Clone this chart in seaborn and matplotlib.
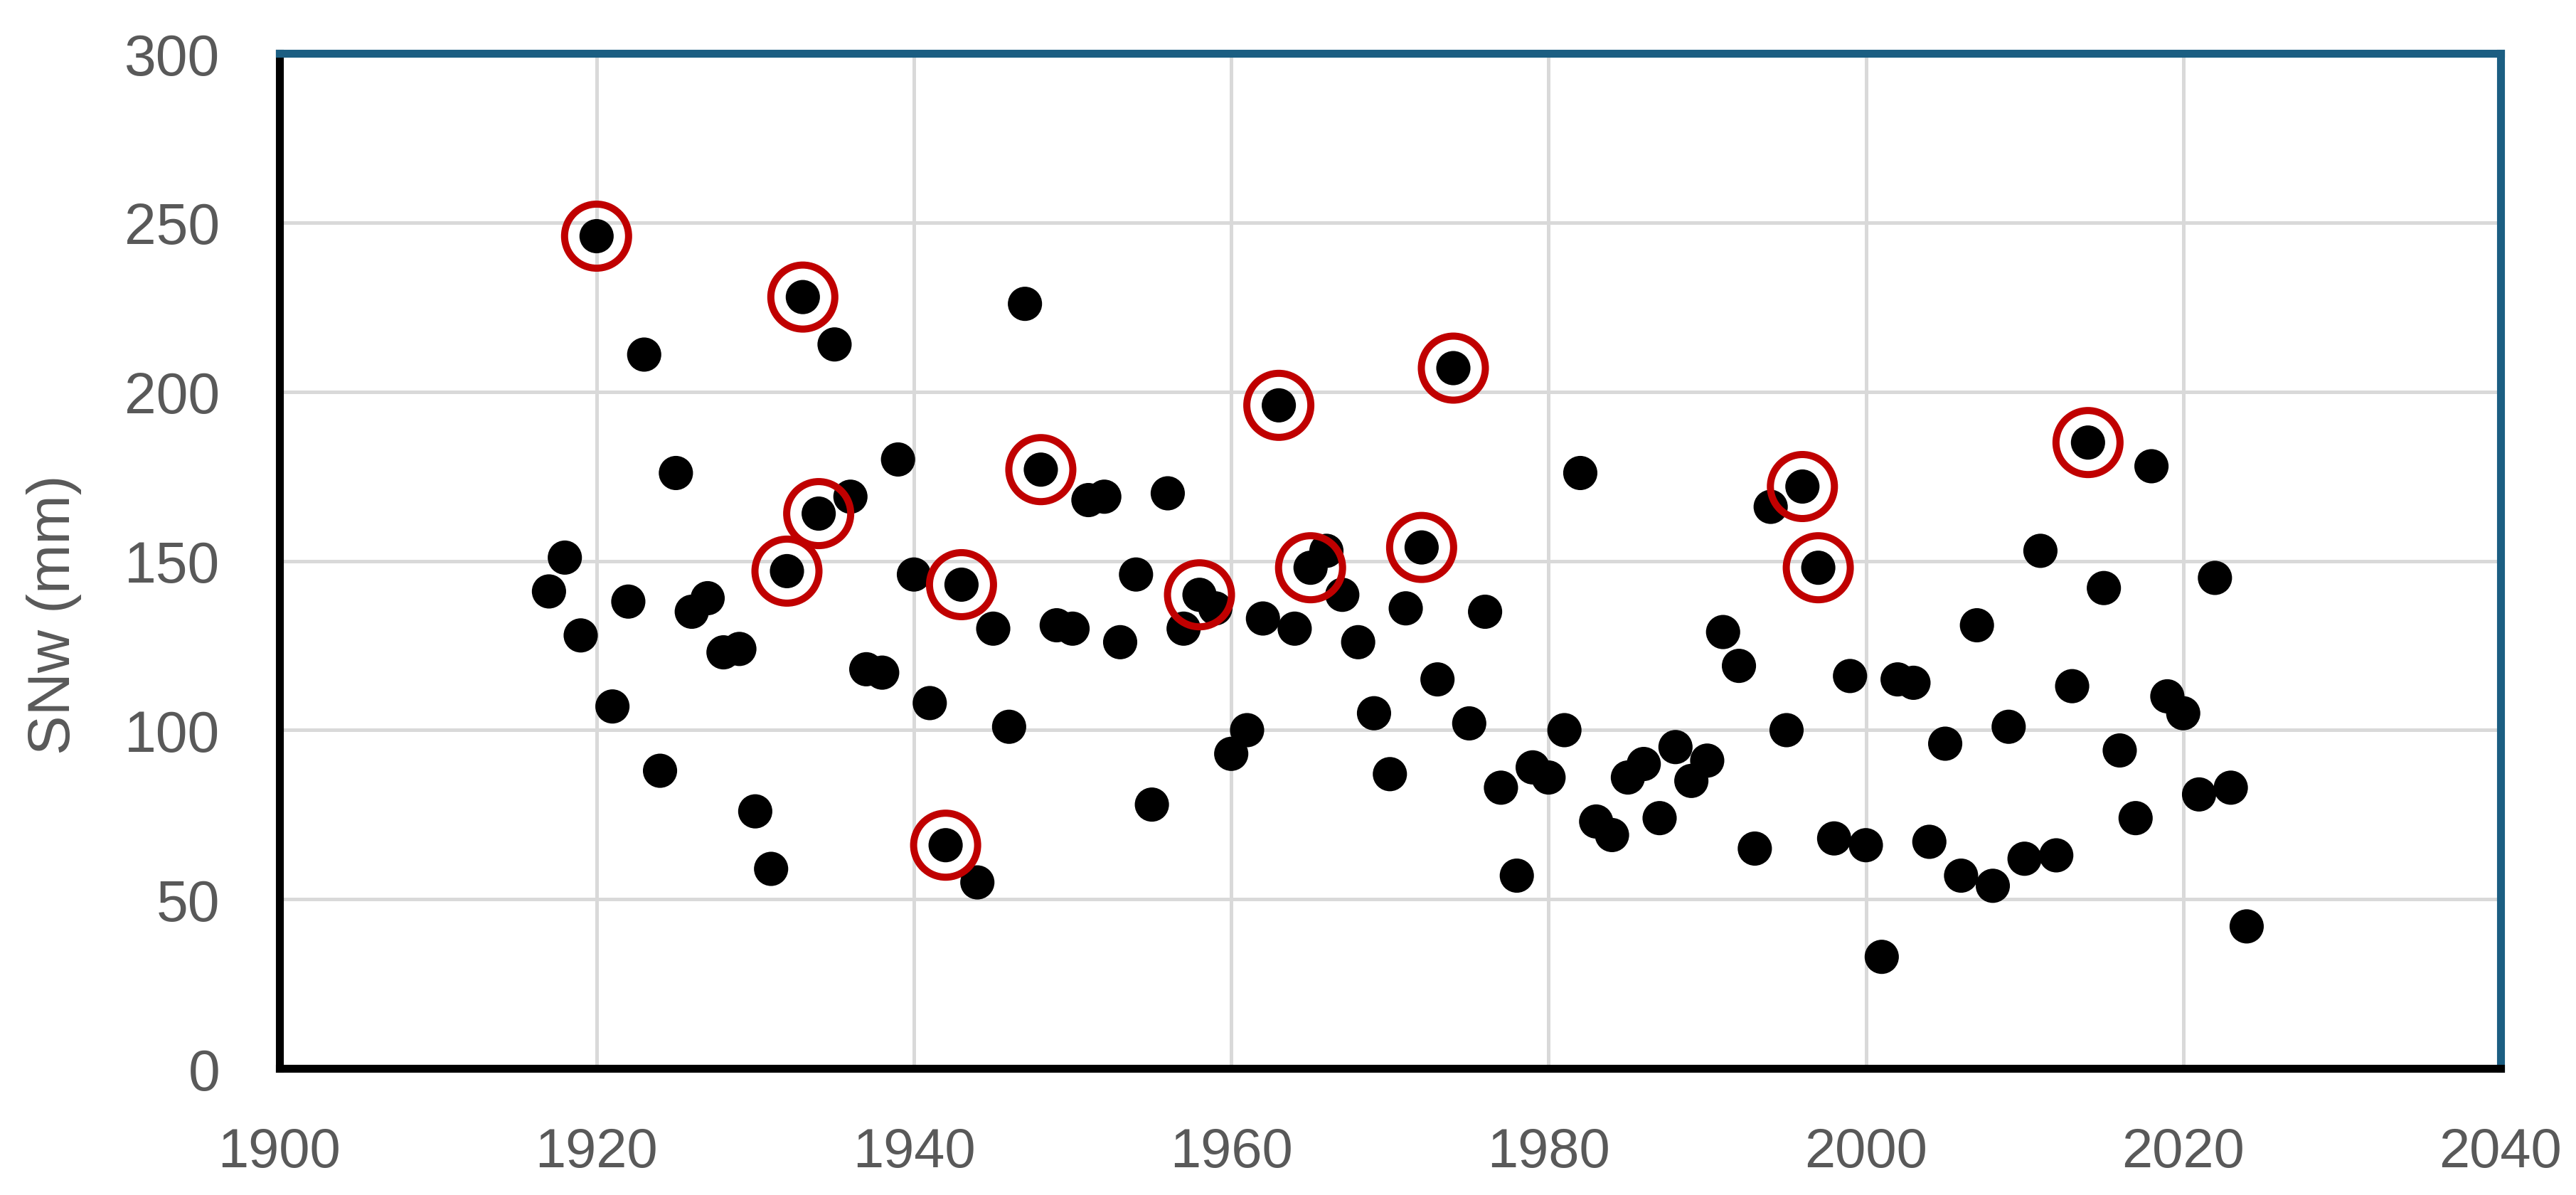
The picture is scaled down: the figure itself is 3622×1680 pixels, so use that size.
import matplotlib
matplotlib.use('Agg')
import pandas as pd
import matplotlib.pyplot as plt
import seaborn as sns

# water-year snowfall (SNw), one value per year 1917-2024
years = list(range(1917, 2025))
snw_mm = [
    141, 151, 128, 246, 107, 138, 211, 88, 176, 135,      # 1917-1926
    139, 123, 124, 76, 59, 147, 228, 164, 214, 169,       # 1927-1936
    118, 117, 180, 146, 108, 66, 143, 55, 130, 101,       # 1937-1946
    226, 177, 131, 130, 168, 169, 126, 146, 78, 170,      # 1947-1956
    130, 140, 136, 93, 100, 133, 196, 130, 148, 153,      # 1957-1966
    140, 126, 105, 87, 136, 154, 115, 207, 102, 135,      # 1967-1976
    83, 57, 89, 86, 100, 176, 73, 69, 86, 90,             # 1977-1986
    74, 95, 85, 91, 129, 119, 65, 166, 100, 172,          # 1987-1996
    148, 68, 116, 66, 33, 115, 114, 67, 96, 57,           # 1997-2006
    131, 54, 101, 62, 153, 63, 113, 185, 142, 94,         # 2007-2016
    74, 178, 110, 105, 81, 145, 83, 42,                   # 2017-2024
]
# years marked with a red ring
circled_years = [1920, 1932, 1933, 1934, 1942, 1943, 1948, 1958,
                 1963, 1965, 1972, 1974, 1996, 1997, 2014]

df = pd.DataFrame({'year': years, 'snw': snw_mm})
hl = df[df['year'].isin(circled_years)]

sns.set_style("white")
plt.rcParams['font.family'] = ['Liberation Sans', 'DejaVu Sans']

fig = plt.figure(figsize=(18.11, 8.405), dpi=200)
ax = fig.add_axes([0.1084, 0.1058, 0.8623, 0.8489])

sns.scatterplot(data=df, x='year', y='snw', ax=ax, color='black',
                s=300, edgecolor='none', zorder=3)
sns.scatterplot(data=hl, x='year', y='snw', ax=ax, s=1050,
                facecolor='none', edgecolor='#C00000', linewidth=3.6, zorder=4)

ax.set_xlim(1900, 2040)
ax.set_ylim(0, 300)
ax.set_xticks(range(1900, 2041, 20))
ax.set_yticks(range(0, 301, 50))
ax.grid(True, color='#D9D9D9', linewidth=1.8, zorder=0)
ax.set_axisbelow(True)

ax.tick_params(axis='both', length=0, labelsize=28, labelcolor='#595959')
ax.tick_params(axis='y', labelsize=29, pad=30)
ax.tick_params(axis='x', pad=29)

ax.set_xlabel('')
ax.set_ylabel('SNw (mm)', fontsize=30, color='#595959')
ax.yaxis.set_label_coords(-0.089, 0.448)

for side in ['left', 'bottom']:
    ax.spines[side].set_color('black')
    ax.spines[side].set_linewidth(4)
for side in ['top', 'right']:
    ax.spines[side].set_color('#1B5E82')
    ax.spines[side].set_linewidth(4)
    ax.spines[side].set_visible(True)

fig.savefig('out.png', dpi=200)
